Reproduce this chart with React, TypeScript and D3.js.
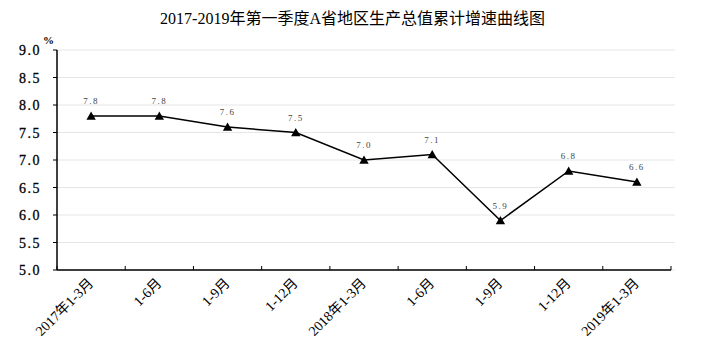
import React from 'react';
import * as d3 from 'd3';

const title = '2017-2019年第一季度A省地区生产总值累计增速曲线图';
const periods = ['2017年1-3月', '1-6月', '1-9月', '1-12月', '2018年1-3月', '1-6月', '1-9月', '1-12月', '2019年1-3月'];
const growth = [7.8, 7.8, 7.6, 7.5, 7.0, 7.1, 5.9, 6.8, 6.6];
const yTicks = [5.0, 5.5, 6.0, 6.5, 7.0, 7.5, 8.0, 8.5, 9.0];

const W = 705, H = 351;
const left = 57, right = 671, top = 50, bottom = 270;
const font = '"Liberation Serif", "DejaVu Serif", "Noto Sans CJK SC", serif';

export default function App() {
    const keys = periods.map((p, i) => i);
    const x = d3.scaleBand<number>().domain(keys).range([left, right]);
    const y = d3.scaleLinear().domain([5, 9]).range([bottom, top]);
    const cx = (i: number) => (x(i) as number) + x.bandwidth() / 2;

    const path = d3.line<number>().x((d, i) => cx(i)).y((d) => y(d))(growth) || '';
    const tri = d3.symbol().type(d3.symbolTriangle).size(38)() || '';
    const bounds = keys.map((i) => x(i) as number).concat([right]);

    return (
        <svg width={W} height={H} style={{ position: 'absolute', left: 0, top: 0, background: '#fff' }} fontFamily={font}>
            <text x={W / 2} y={24} textAnchor='middle' fontSize={16}>{title}</text>

            {/* grid */}
            {yTicks.map((t) => (
                <line key={'g' + t} x1={left} x2={right + 4} y1={y(t)} y2={y(t)} stroke='#e6e6e6' strokeWidth={1} />
            ))}

            {/* y axis */}
            <line x1={left} x2={left} y1={top} y2={bottom} stroke='#000' strokeWidth={1.5} />
            {yTicks.map((t) => (
                <g key={'y' + t}>
                    <line x1={left - 4} x2={left} y1={y(t)} y2={y(t)} stroke='#000' />
                    <text x={41} y={y(t) + 5} textAnchor='end' fontSize={14} letterSpacing={1.5}
                        stroke='#000' strokeWidth={0.3}>{t.toFixed(1)}</text>
                </g>
            ))}
            <text x={43} y={44} fontSize={11} fontWeight='bold'>%</text>

            {/* x axis */}
            <line x1={left} x2={right} y1={bottom} y2={bottom} stroke='#000' strokeWidth={1.5} />
            {bounds.map((b, i) => (
                <line key={'xt' + i} x1={b} x2={b} y1={bottom} y2={bottom - 4} stroke='#000' />
            ))}
            {periods.map((p, i) => (
                <text key={'xl' + i} transform={`translate(${cx(i) + 3},${bottom + 14}) rotate(-45)`}
                    textAnchor='end' fontSize={14}>{p}</text>
            ))}

            {/* series */}
            <path d={path} fill='none' stroke='#000' strokeWidth={1.5} />
            {growth.map((v, i) => (
                <g key={'p' + i}>
                    <path d={tri} transform={`translate(${cx(i)},${y(v) + 1})`} fill='#000' />
                    <text x={cx(i)} y={y(v) - 12} textAnchor='middle' fontSize={9} fill='#444' letterSpacing={1.5}>{v.toFixed(1)}</text>
                </g>
            ))}
        </svg>
    );
}
